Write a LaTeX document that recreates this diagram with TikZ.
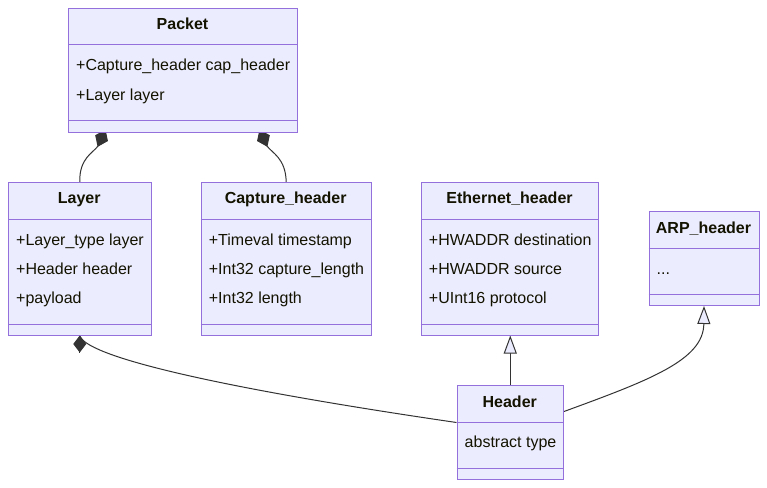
\documentclass[tikz,border=0pt]{standalone}
\usepackage{fontspec}
\setmainfont{Liberation Sans}
\usetikzlibrary{arrows.meta,calc}
\pgfdeclarelayer{background}
\pgfsetlayers{background,main}
\definecolor{boxfill}{HTML}{ECECFF}
\definecolor{boxborder}{HTML}{9370DB}
\definecolor{linec}{HTML}{333333}
\definecolor{txt}{HTML}{131300}
\tikzset{
  box/.style={draw=boxborder, fill=boxfill, line width=1pt, inner sep=0pt, anchor=north west},
  title/.style={font=\fontsize{16}{19}\selectfont\bfseries, text=txt, anchor=base, inner sep=0pt},
  attr/.style={font=\fontsize{16}{19}\selectfont, text=txt, anchor=base west, inner sep=0pt},
  divider/.style={draw=boxborder, line width=1pt},
  link/.style={draw=linec, line width=1pt},
  comp/.style={link, {Diamond[length=17pt,width=13pt,fill=linec]}-},
  compbig/.style={link, {Diamond[length=19pt,width=14pt,fill=linec]}-},
  inherit/.style={link, -{Triangle[length=18pt,width=13pt,fill=boxfill]}},
}
\begin{document}
\begin{tikzpicture}[x=1pt,y=-1pt]
\useasboundingbox (0,0) rectangle (767,487);

% Packet
\node[box, minimum width=229pt, minimum height=123.5pt] (packet) at (68,8) {};
\draw[divider] (68,45) -- (297,45);
\draw[divider] (68,120.5) -- (297,120.5);
\node[title] (packetT) at (182.5,29.7) {Packet};
\node[attr] (packetA1) at (76,70.7) {+Capture\_header cap\_header};
\node[attr] (packetA2) at (76,100.7) {+Layer layer};

% Layer
\node[box, minimum width=142.5pt, minimum height=152.5pt] (layer) at (8,182) {};
\draw[divider] (8,219) -- (150.5,219);
\node[title] (layerT) at (79.25,203.5) {Layer};
\draw[divider] (8,324.5) -- (150.5,324.5);
\node[attr] (layerA1) at (16,245.2) {+Layer\_type layer};
\node[attr] (layerA2) at (16,274.2) {+Header header};
\node[attr] (layerA3) at (16,303.7) {+payload};

% Capture_header
\node[box, minimum width=170pt, minimum height=152.5pt] (capture) at (200.7,182) {};
\draw[divider] (200.7,219) -- (370.7,219);
\draw[divider] (200.7,324.5) -- (370.7,324.5);
\node[title] (captureT) at (285.7,203.5) {Capture\_header};
\node[attr] (captureA1) at (208.7,245.2) {+Timeval timestamp};
\node[attr] (captureA2) at (208.7,274.2) {+Int32 capture\_length};
\node[attr] (captureA3) at (208.7,303.7) {+Int32 length};

% Ethernet_header
\node[box, minimum width=177.6pt, minimum height=152.5pt] (ethernet) at (420.7,182) {};
\draw[divider] (420.7,219) -- (598.3,219);
\draw[divider] (420.7,324.5) -- (598.3,324.5);
\node[title] (ethernetT) at (509.5,203.5) {Ethernet\_header};
\node[attr] (ethernetA1) at (428.7,245.2) {+HWADDR destination};
\node[attr] (ethernetA2) at (428.7,274.2) {+HWADDR source};
\node[attr] (ethernetA3) at (428.7,303.7) {+UInt16 protocol};

% ARP_header
\node[box, minimum width=110pt, minimum height=94pt] (arp) at (648.5,211) {};
\draw[divider] (648.5,248.5) -- (758.5,248.5);
\draw[divider] (648.5,294.3) -- (758.5,294.3);
\node[title] (arpT) at (703.5,233.5) {ARP\_header};
\node[attr] (arpA1) at (656.5,274.5) {...};

% Header
\node[box, minimum width=106.5pt, minimum height=94pt] (header) at (456.5,385) {};
\draw[divider] (456.5,422.3) -- (563,422.3);
\draw[divider] (456.5,468.3) -- (563,468.3);
\node[title] (headerT) at (509.75,407) {Header};
\node[attr] (headerA1) at (464.5,447.7) {abstract type};

% Connectors (behind the boxes)
\begin{pgfonlayer}{background}
\draw[compbig] ($(packet.south west)+(37.5,-3)$) -- (98,146) .. controls (93,153) and (79.25,158) .. (layer.north);
\draw[compbig] ($(packet.south west)+(191.5,-3)$) -- (267,146) .. controls (272,153) and (285.7,158) .. (capture.north);
\draw[link] (layer.south) .. controls (85,355) and (200,385) .. ($(header.north west)+(0,37.5)$);
\draw[inherit] (header.north) -- (header.north |- ethernet.south);
\draw[inherit] ($(header.north east)+(0,26.5)$) .. controls (650,380) and (703.5,360) .. (arp.south);
\end{pgfonlayer}
\draw[comp] (layer.south) -- ++(0,17);
\end{tikzpicture}
\end{document}
